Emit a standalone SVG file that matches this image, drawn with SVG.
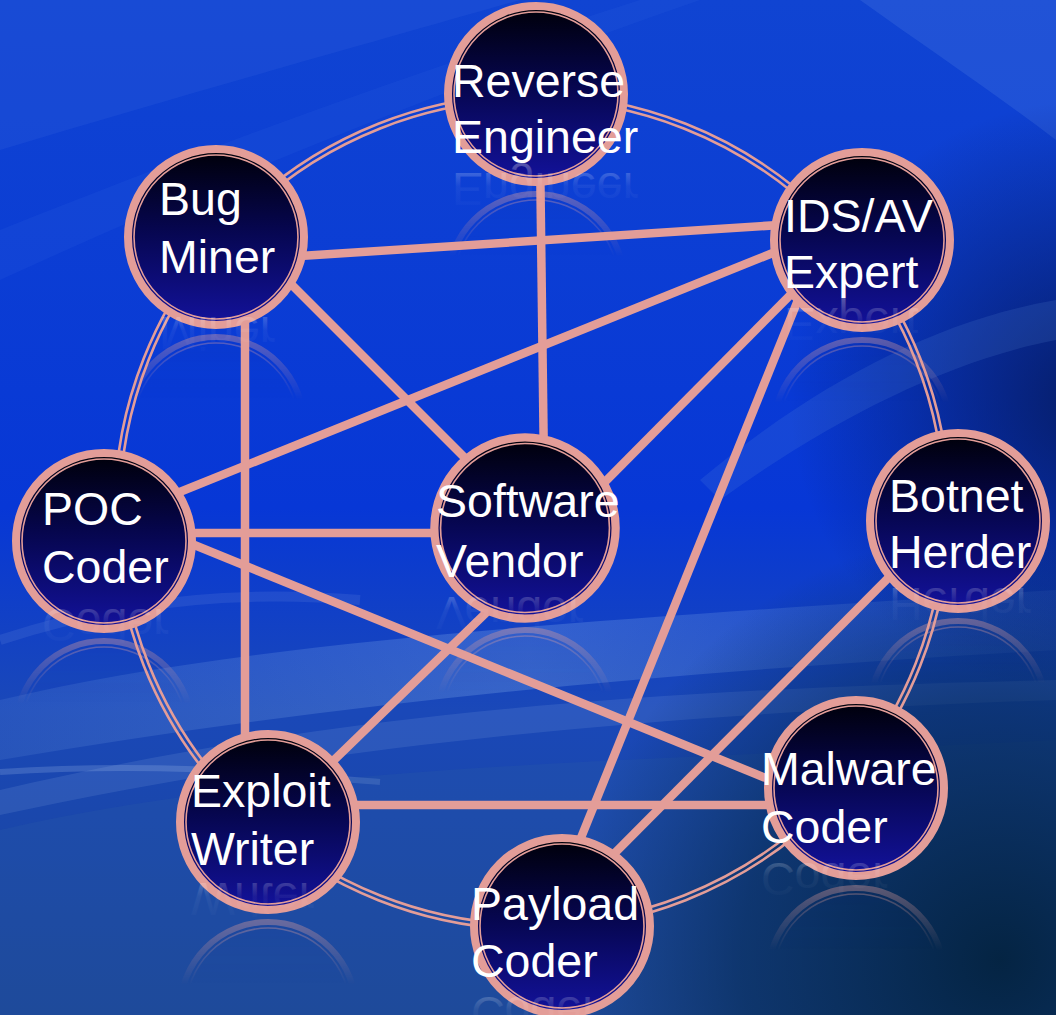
<svg xmlns="http://www.w3.org/2000/svg" xmlns:xlink="http://www.w3.org/1999/xlink" width="1056" height="1015" viewBox="0 0 1056 1015">
<style>
.lbl{font-family:"Liberation Sans",Arial,sans-serif;font-size:46.5px;fill:#ffffff}
.refl{font-family:"Liberation Sans",Arial,sans-serif;font-size:46.5px;fill:url(#reflText)}
.conn{stroke:#e39d98;stroke-width:8.5;stroke-linecap:butt;fill:none}
.ring{stroke:#e39d98;stroke-width:2.6;fill:none}
</style>
<defs>
  <linearGradient id="bgBase" x1="0" y1="0" x2="0" y2="1">
    <stop offset="0" stop-color="#1044d2"/>
    <stop offset="0.5" stop-color="#0737d6"/>
    <stop offset="0.7" stop-color="#1a48b8"/>
    <stop offset="1" stop-color="#1a4596"/>
  </linearGradient>
  <radialGradient id="darkRight" cx="1090" cy="400" r="300" gradientUnits="userSpaceOnUse">
    <stop offset="0" stop-color="#061a5c" stop-opacity="0.9"/>
    <stop offset="1" stop-color="#061a5c" stop-opacity="0"/>
  </radialGradient>
  <radialGradient id="darkBR" cx="1000" cy="960" r="430" gradientUnits="userSpaceOnUse">
    <stop offset="0" stop-color="#03223e" stop-opacity="0.95"/>
    <stop offset="0.6" stop-color="#04284e" stop-opacity="0.6"/>
    <stop offset="1" stop-color="#04284e" stop-opacity="0"/>
  </radialGradient>
  <linearGradient id="wave" x1="0" y1="0" x2="1" y2="0">
    <stop offset="0" stop-color="#8ab4ec" stop-opacity="0.12"/>
    <stop offset="0.5" stop-color="#8ab4ec" stop-opacity="0.28"/>
    <stop offset="1" stop-color="#8ab4ec" stop-opacity="0.08"/>
  </linearGradient>
  <linearGradient id="discFill" x1="0" y1="0" x2="0" y2="1">
    <stop offset="0" stop-color="#000008"/>
    <stop offset="0.45" stop-color="#06064e"/>
    <stop offset="1" stop-color="#13129c"/>
  </linearGradient>
  <linearGradient id="reflText" x1="0" y1="0" x2="0" y2="1">
    <stop offset="0" stop-color="#ffffff" stop-opacity="0"/>
    <stop offset="0.55" stop-color="#ffffff" stop-opacity="0.05"/>
    <stop offset="1" stop-color="#ffffff" stop-opacity="0.3"/>
  </linearGradient>
  <linearGradient id="reflMaskGrad" x1="0" y1="25" x2="0" y2="92" gradientUnits="userSpaceOnUse">
    <stop offset="0" stop-color="#ffffff" stop-opacity="0"/>
    <stop offset="1" stop-color="#ffffff" stop-opacity="0.4"/>
  </linearGradient>
  <mask id="reflMask" maskUnits="userSpaceOnUse" x="-100" y="-100" width="200" height="200">
    <rect x="-100" y="-100" width="200" height="200" fill="url(#reflMaskGrad)"/>
  </mask>
  <g id="disc">
    <circle r="88" fill="url(#discFill)" stroke="#e39d98" stroke-width="8"/>
    <circle r="82" fill="none" stroke="#e39d98" stroke-width="1.6"/>
  </g>
  <g id="discRefl">
    <circle r="88" fill="#0a1a80" fill-opacity="0.15" stroke="#e39d98" stroke-width="6"/>
    <circle r="82" fill="none" stroke="#e39d98" stroke-width="1.6"/>
  </g>
</defs>

<g id="background">
  <rect width="1056" height="1015" fill="url(#bgBase)"/>
  <path d="M0,0 L520,0 C380,40 200,90 0,150 Z" fill="#3a6ae0" opacity="0.2"/>
  <path d="M0,230 C200,150 420,70 640,0 L700,0 C470,80 240,170 0,280 Z" fill="#5a8cf0" opacity="0.08"/>
  <path d="M860,0 L1056,0 L1056,140 C990,90 930,50 860,0 Z" fill="#4a78e0" opacity="0.3"/>
  <rect width="1056" height="1015" fill="url(#darkRight)"/>
  <path d="M700,480 C820,380 940,320 1056,300 L1056,340 C950,360 830,420 720,500 Z" fill="#6a9ae0" opacity="0.15"/>
  <path d="M0,700 C250,640 600,620 1056,590 L1056,650 C700,670 350,700 0,760 Z" fill="url(#wave)"/>
  <path d="M0,790 C300,720 600,690 1056,680 L1056,700 C620,715 300,750 0,815 Z" fill="#a8c8f0" opacity="0.13"/>
  <path d="M0,772 C150,762 260,772 380,782" stroke="#c8dcf8" stroke-opacity="0.18" stroke-width="6" fill="none"/>
  <path d="M0,640 C120,600 240,590 360,600" stroke="#9ab8ee" stroke-opacity="0.12" stroke-width="10" fill="none"/>
  <path d="M0,830 C300,760 700,760 1056,740 L1056,1015 L0,1015 Z" fill="#2a5aa8" opacity="0.25"/>
  <rect width="1056" height="1015" fill="url(#darkBR)"/>
</g>

<g id="reflections">
  <use xlink:href="#discRefl" href="#discRefl" transform="translate(536,282) scale(1,-1)" mask="url(#reflMask)"/>
  <use xlink:href="#discRefl" href="#discRefl" transform="translate(216,425) scale(1,-1)" mask="url(#reflMask)"/>
  <use xlink:href="#discRefl" href="#discRefl" transform="translate(862,428) scale(1,-1)" mask="url(#reflMask)"/>
  <use xlink:href="#discRefl" href="#discRefl" transform="translate(958,709) scale(1,-1)" mask="url(#reflMask)"/>
  <use xlink:href="#discRefl" href="#discRefl" transform="translate(856,976) scale(1,-1)" mask="url(#reflMask)"/>
  <use xlink:href="#discRefl" href="#discRefl" transform="translate(562,1114) scale(1,-1)" mask="url(#reflMask)"/>
  <use xlink:href="#discRefl" href="#discRefl" transform="translate(268,1010) scale(1,-1)" mask="url(#reflMask)"/>
  <use xlink:href="#discRefl" href="#discRefl" transform="translate(104,729) scale(1,-1)" mask="url(#reflMask)"/>
  <use xlink:href="#discRefl" href="#discRefl" transform="translate(525,718) scale(1,-1)" mask="url(#reflMask)"/>
</g>

<g id="connectors">
  <circle class="ring" cx="532" cy="512" r="412.5"/>
  <circle class="ring" cx="532" cy="512" r="417.5"/>
  <line class="conn" x1="300" y1="256" x2="795" y2="224"/>
  <line class="conn" x1="540" y1="150" x2="544" y2="470"/>
  <line class="conn" x1="260" y1="253" x2="480" y2="473"/>
  <line class="conn" x1="800" y1="242" x2="150" y2="504"/>
  <line class="conn" x1="820" y1="265" x2="590" y2="497"/>
  <line class="conn" x1="800" y1="295" x2="570" y2="865"/>
  <line class="conn" x1="245" y1="300" x2="245" y2="760"/>
  <line class="conn" x1="160" y1="533" x2="480" y2="533"/>
  <line class="conn" x1="160" y1="531" x2="800" y2="792"/>
  <line class="conn" x1="520" y1="580" x2="300" y2="793"/>
  <line class="conn" x1="300" y1="805" x2="800" y2="805"/>
  <line class="conn" x1="920" y1="546" x2="590" y2="878"/>
</g>

<g id="node-reverse-engineer">
  <use xlink:href="#disc" href="#disc" x="536" y="94"/>
  <text class="lbl" x="452" y="97">Reverse</text>
  <text class="lbl" x="452" y="153">Engineer</text>
  <text class="refl" x="452" y="153" transform="matrix(1 0 0 -1 0 326)">Engineer</text>
</g>
<g id="node-bug-miner">
  <use xlink:href="#disc" href="#disc" x="216" y="237"/>
  <text class="lbl" x="159" y="215">Bug</text>
  <text class="lbl" x="159" y="273">Miner</text>
  <text class="refl" x="159" y="273" transform="matrix(1 0 0 -1 0 590)">Miner</text>
</g>
<g id="node-ids-av-expert">
  <use xlink:href="#disc" href="#disc" x="862" y="240"/>
  <text class="lbl" x="784" y="232">IDS/AV</text>
  <text class="lbl" x="784" y="288">Expert</text>
  <text class="refl" x="784" y="288" transform="matrix(1 0 0 -1 0 596)">Expert</text>
</g>
<g id="node-botnet-herder">
  <use xlink:href="#disc" href="#disc" x="958" y="521"/>
  <text class="lbl" x="889" y="512">Botnet</text>
  <text class="lbl" x="889" y="568">Herder</text>
  <text class="refl" x="889" y="568" transform="matrix(1 0 0 -1 0 1156)">Herder</text>
</g>
<g id="node-malware-coder">
  <use xlink:href="#disc" href="#disc" x="856" y="788"/>
  <text class="lbl" x="761" y="785">Malware</text>
  <text class="lbl" x="761" y="843">Coder</text>
  <text class="refl" x="761" y="843" transform="matrix(1 0 0 -1 0 1706)">Coder</text>
</g>
<g id="node-payload-coder">
  <use xlink:href="#disc" href="#disc" x="562" y="926"/>
  <text class="lbl" x="471" y="920">Payload</text>
  <text class="lbl" x="471" y="977">Coder</text>
  <text class="refl" x="471" y="977" transform="matrix(1 0 0 -1 0 1974)">Coder</text>
</g>
<g id="node-exploit-writer">
  <use xlink:href="#disc" href="#disc" x="268" y="822"/>
  <text class="lbl" x="191" y="807">Exploit</text>
  <text class="lbl" x="191" y="865">Writer</text>
  <text class="refl" x="191" y="865" transform="matrix(1 0 0 -1 0 1748)">Writer</text>
</g>
<g id="node-poc-coder">
  <use xlink:href="#disc" href="#disc" x="104" y="541"/>
  <text class="lbl" x="42" y="525">POC</text>
  <text class="lbl" x="42" y="583">Coder</text>
  <text class="refl" x="42" y="583" transform="matrix(1 0 0 -1 0 1192)">Coder</text>
</g>
<g id="node-software-vendor">
  <use xlink:href="#disc" href="#disc" transform="translate(525,528) scale(1.03)"/>
  <text class="lbl" x="436" y="517">Software</text>
  <text class="lbl" x="436" y="577">Vendor</text>
  <text class="refl" x="436" y="577" transform="matrix(1 0 0 -1 0 1174)">Vendor</text>
</g>
</svg>
